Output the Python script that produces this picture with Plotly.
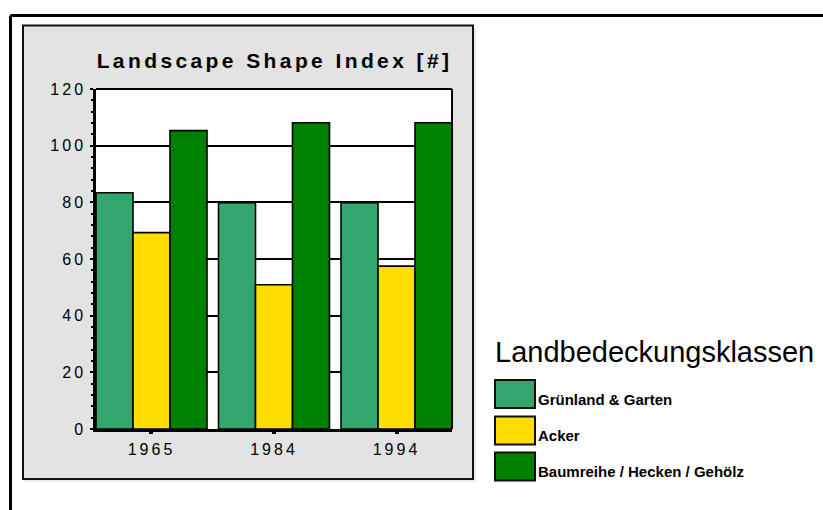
import plotly.graph_objects as go

years = ["1965", "1984", "1994"]
series_names = ["Grünland & Garten", "Acker", "Baumreihe / Hecken / Gehölz"]
gruenland = [83.4, 79.9, 79.9]
acker = [69.3, 50.9, 57.5]
baum = [105.3, 108.1, 108.1]
colors = ["#33A66D", "#FFDD00", "#008000"]
y_ticks = [0, 20, 40, 60, 80, 100, 120]
legend_title = "Landbedeckungsklassen"
chart_title = "Landscape Shape Index [#]"

FIG_W, FIG_H = 823, 510
L, R, T, B = 96, 452, 89, 429
PW, PH = R - L, B - T


def px(x):
    return (x - L) / PW


def py(y):
    return (B - y) / PH


fig = go.Figure()
for name, vals, col in zip(series_names, [gruenland, acker, baum], colors):
    fig.add_trace(go.Bar(
        x=years, y=vals, name=name, marker_color=col,
        marker_line=dict(color="black", width=1.6), showlegend=False,
    ))

shapes = []
# outer frame
shapes.append(dict(type="line", xref="paper", yref="paper", x0=px(10.5), x1=px(830),
                   y0=py(15.5), y1=py(15.5), line=dict(color="black", width=3), layer="below"))
shapes.append(dict(type="line", xref="paper", yref="paper", x0=px(10.5), x1=px(10.5),
                   y0=py(15.5), y1=py(520), line=dict(color="black", width=3), layer="below"))
# light shadow of panel
shapes.append(dict(type="rect", xref="paper", yref="paper", x0=px(24), x1=px(476),
                   y0=py(27), y1=py(482), fillcolor="#EDEDED", line=dict(width=0), layer="below"))
# gray panel
shapes.append(dict(type="rect", xref="paper", yref="paper", x0=px(23), x1=px(473),
                   y0=py(25.5), y1=py(479), fillcolor="#E3E3E3",
                   line=dict(color="#111111", width=2), layer="below"))
# plot background
shapes.append(dict(type="rect", xref="paper", yref="paper", x0=0, x1=1, y0=0, y1=1,
                   fillcolor="white", line=dict(width=0), layer="below"))

annotations = [dict(text=legend_title, xref="paper", yref="paper", x=px(493), y=py(352),
                    xanchor="left", yanchor="middle", showarrow=False,
                    font=dict(family="Liberation Sans, Arial", size=29, color="black"))]
sw_tops = [380, 416.5, 452.5]
for name, col, top in zip(series_names, colors, sw_tops):
    shapes.append(dict(type="rect", xref="paper", yref="paper", x0=px(495), x1=px(535),
                       y0=py(top), y1=py(top + 28), fillcolor=col,
                       line=dict(color="#111111", width=2)))
    annotations.append(dict(text=name, xref="paper", yref="paper", x=px(536), y=py(top + 19),
                            xanchor="left", yanchor="middle", showarrow=False,
                            font=dict(family="Liberation Sans, Arial", size=15, color="black",
                                      weight="bold")))

fig.update_layout(
    width=FIG_W, height=FIG_H,
    margin=dict(l=L, r=FIG_W - R, t=T, b=FIG_H - B, pad=0),
    paper_bgcolor="white", plot_bgcolor="rgba(0,0,0,0)",
    barmode="group", bargap=0.094, bargroupgap=0,
    title=dict(text=chart_title, x=px(274.5), xanchor="center", xref="paper",
               y=1 - 61 / FIG_H, yref="container", yanchor="middle",
               font=dict(family="Liberation Sans, Arial", size=21, color="black", weight="bold")),
    font=dict(family="Liberation Sans, Arial", color="black"),
    shapes=shapes, annotations=annotations,
)
fig.update_xaxes(
    range=[-0.453, 2.453], showline=True, linecolor="black", linewidth=2.5, mirror=False,
    ticks="outside", ticklen=2, tickwidth=4, tickcolor="black",
    tickfont=dict(size=16, family="Liberation Sans, Arial"), ticklabelstandoff=2,
    showgrid=False, zeroline=False,
)
fig.update_yaxes(
    range=[0, 120], tickvals=y_ticks, showline=True, linecolor="black", linewidth=2.5,
    ticks="outside", ticklen=3, tickwidth=1.5, tickcolor="black",
    minor=dict(dtick=4, ticks="outside", ticklen=2, tickwidth=1.5, tickcolor="black"),
    tickfont=dict(size=16, family="Liberation Sans, Arial"), ticklabelstandoff=1,
    showgrid=True, gridcolor="black", gridwidth=1.5, zeroline=False,
)
# top and right frame of plot area
fig.add_shape(type="line", xref="paper", yref="paper", x0=0, x1=1, y0=1, y1=1,
              line=dict(color="black", width=2))
fig.add_shape(type="line", xref="paper", yref="paper", x0=1, x1=1, y0=0, y1=1,
              line=dict(color="black", width=2))

post = """
document.body.style.margin = '0';
document.body.style.padding = '0';
var gd = document.getElementById('{plot_id}');
function sp(){
  gd.querySelectorAll('.gtitle').forEach(function(e){e.style.letterSpacing='3.4px';});
  gd.querySelectorAll('.xtick text, .ytick text').forEach(function(e){e.style.letterSpacing='3px';});
}
sp();
gd.on('plotly_afterplot', sp);
"""
fig.write_html("out.html", post_script=post, config={"displayModeBar": False})
